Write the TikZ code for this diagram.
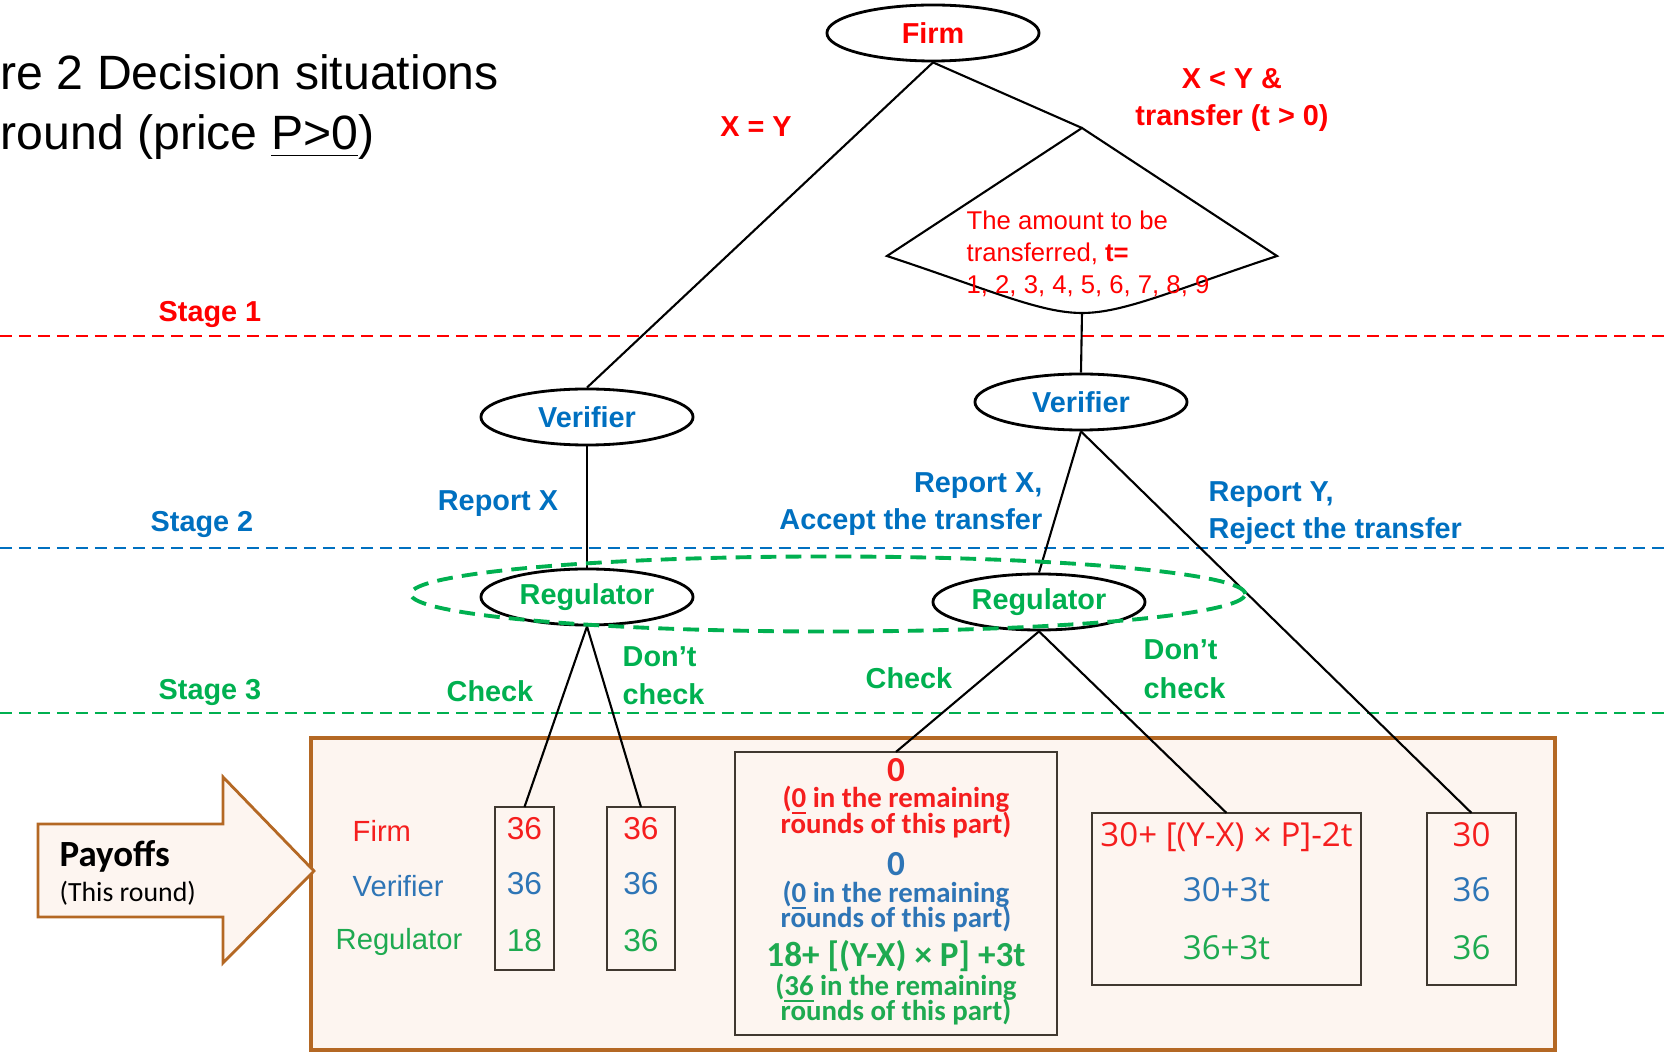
\documentclass[tikz,border=0pt]{standalone}
\usepackage{fontspec}
\setmainfont{Liberation Sans}
\newfontfamily\carlitofont{Carlito}
\newfontfamily\payfont{Open Sans}
\usetikzlibrary{shapes.geometric}
\definecolor{fred}{RGB}{255,0,0}
\definecolor{vblue}{RGB}{0,112,192}
\definecolor{rgreen}{RGB}{0,176,80}
\definecolor{pred}{RGB}{245,30,30}
\definecolor{pblue}{RGB}{46,117,182}
\definecolor{pgreen}{RGB}{30,170,80}
\definecolor{payline}{RGB}{180,104,36}
\definecolor{payfill}{RGB}{253,245,240}
\definecolor{boxline}{RGB}{64,56,48}
\begin{document}
\begin{tikzpicture}[x=0.01cm,y=-0.01cm,
    player/.style={ellipse,draw,line width=0.8pt,minimum width=2.12cm,minimum height=0.56cm,inner sep=0pt,font=\bfseries\fontsize{8.2}{10}\selectfont},
    lbl/.style={inner sep=0pt,font=\bfseries\fontsize{8.2}{10.6}\selectfont},
    branch/.style={line width=0.6pt},
    stageline/.style={dash pattern=on 3.4pt off 2pt,line width=0.6pt},
    paybox/.style={draw=boxline,line width=0.6pt,inner sep=0pt,outer sep=0pt},
    rowlbl/.style={inner sep=0pt,anchor=base west,font=\fontsize{8.3}{10}\selectfont},
    boxnum/.style={inner sep=0pt,anchor=base,font=\fontsize{9}{10}\selectfont},
    boxsum/.style={inner sep=0pt,anchor=base,font=\payfont\fontsize{9.4}{11}\selectfont},
    rest/.style={inner sep=0pt,anchor=base,font=\carlitofont\bfseries\fontsize{8.2}{9}\selectfont},
    restbig/.style={inner sep=0pt,anchor=base,font=\carlitofont\bfseries\fontsize{10}{11}\selectfont}]
    \useasboundingbox (0,0) rectangle (1665,1052);
    \node[anchor=base west,inner sep=0pt,font=\fontsize{13.7}{16}\selectfont] (title1) at (0,90) {re 2 Decision situations};
    \node[anchor=base west,inner sep=0pt,font=\fontsize{13.7}{16}\selectfont] (title2) at (0,150) {round (price \underline{P>0})};
    \draw[stageline,fred] (0,336) -- (1665,336);
    \draw[stageline,vblue] (0,548) -- (1665,548);
    \draw[stageline,rgreen] (0,713) -- (1665,713);
    \node[lbl,text=fred,anchor=base west] (stage1) at (158,322) {Stage 1};
    \node[lbl,text=vblue,anchor=base west] (stage2) at (150,532) {Stage 2};
    \node[lbl,text=rgreen,anchor=base west] (stage3) at (158,700) {Stage 3};
    \draw[payline,fill=payfill,line width=0.9pt] (311,738) rectangle (1555,1050);
    \draw[payline,fill=payfill,line width=0.8pt] (38,824) -- (223,824) -- (223,777) -- (314,871) -- (223,963) -- (223,917) -- (38,917) -- cycle;
    \node[anchor=base west,inner sep=0pt,font=\carlitofont\bfseries\fontsize{10.5}{12}\selectfont] (payoffs) at (59,867) {Payoffs};
    \node[anchor=base west,inner sep=0pt,font=\carlitofont\fontsize{7.9}{9}\selectfont] (thisround) at (59,902) {(This round)};
    \node[player,text=fred] (firm) at (933,33) {Firm};
    \node[player,text=vblue] (verA) at (587,417) {Verifier};
    \node[player,text=vblue] (verB) at (1081,402) {Verifier};
    \node[player,text=rgreen] (regA) at (587,597) {Regulator};
    \node[player,text=rgreen] (regB) at (1039,602) {Regulator};
    \coordinate (fanT) at (1082,128);
    \coordinate (fanL) at (887,256);
    \coordinate (fanR) at (1277,256);
    \coordinate (fanB) at (1082,313);
    \draw[branch] (fanT) -- (fanL) .. controls (990,290) and (1040,313) .. (fanB) .. controls (1124,313) and (1174,290) .. (fanR) -- cycle;
    \node[anchor=north west,inner sep=0pt,align=left,text=fred,font=\fontsize{7.3}{9.1}\selectfont] (amount) at (966,210) {The amount to be\\transferred, \textbf{t=}\\1, 2, 3, 4, 5, 6, 7, 8, 9};
    \node[paybox,minimum width=0.59cm,minimum height=1.63cm] (payA) at (524.5,888.5) {};
    \node[paybox,minimum width=0.68cm,minimum height=1.63cm] (payB) at (641,888.5) {};
    \node[paybox,minimum width=3.22cm,minimum height=2.83cm] (payC) at (896,893.5) {};
    \node[paybox,minimum width=2.69cm,minimum height=1.72cm] (payD) at (1226.5,899) {};
    \node[paybox,minimum width=0.89cm,minimum height=1.72cm] (payE) at (1471.5,899) {};
    \draw[branch] (firm.south) -- (verA.north);
    \draw[branch] (firm.south) -- (fanT);
    \draw[branch] (fanB) -- (verB.north);
    \draw[branch] (verA.south) -- (regA.north);
    \draw[branch] (verB.south) -- (regB.north);
    \draw[branch] (verB.south) -- (payE.north);
    \draw[branch] (regA.south) -- (payA.north);
    \draw[branch] (regA.south) -- (payB.north);
    \draw[branch] (regB.south) -- (payC.north);
    \draw[branch] (regB.south) -- (payD.north);
    \draw[rgreen,line width=1.1pt,dash pattern=on 4.5pt off 2.6pt] (828,594) ellipse [x radius=4.17cm,y radius=0.375cm];
    \node[lbl,text=fred,anchor=base] (xeqy) at (756,137) {X = Y};
    \node[lbl,text=fred,align=center,anchor=north] (xlty) at (1232,68) {X < Y \&\\transfer (t > 0)};
    \node[lbl,text=vblue,anchor=base] (repA) at (498,511) {Report X};
    \node[lbl,text=vblue,align=right,anchor=north east] (repB) at (1043,472) {Report X,\\Accept the transfer};
    \node[lbl,text=vblue,align=left,anchor=north west] (repC) at (1208,481) {Report Y,\\Reject the transfer};
    \node[lbl,text=rgreen,anchor=base] (chkA) at (490,702) {Check};
    \node[lbl,text=rgreen,align=left,anchor=north west,font=\bfseries\fontsize{8.2}{10.9}\selectfont] (dchkA) at (622,646) {Don’t\\check};
    \node[lbl,text=rgreen,anchor=base] (chkB) at (909,689) {Check};
    \node[lbl,text=rgreen,align=left,anchor=north west,font=\bfseries\fontsize{8.2}{11}\selectfont] (dchkB) at (1143,639) {Don’t\\check};
    \node[rowlbl,text=pred] (rowF) at (352,842) {Firm};
    \node[rowlbl,text=pblue] (rowV) at (352,897) {Verifier};
    \node[rowlbl,text=pgreen] (rowR) at (335,950) {Regulator};
    \node[boxnum,text=pred] (aF) at (524.5,840) {36};
    \node[boxnum,text=pblue] (aV) at (524.5,895) {36};
    \node[boxnum,text=pgreen] (aR) at (524.5,952) {18};
    \node[boxnum,text=pred] (bF) at (641,840) {36};
    \node[boxnum,text=pblue] (bV) at (641,895) {36};
    \node[boxnum,text=pgreen] (bR) at (641,952) {36};
    \node[restbig,text=pred] (cF) at (896,782) {0};
    \node[rest,text=pred] (cF1) at (896,808) {(\underline{0} in the remaining};
    \node[rest,text=pred] (cF2) at (896,834) {rounds of this part)};
    \node[restbig,text=pblue] (cV) at (896,876) {0};
    \node[rest,text=pblue] (cV1) at (896,903) {(\underline{0} in the remaining};
    \node[rest,text=pblue] (cV2) at (896,928) {rounds of this part)};
    \node[restbig,text=pgreen] (cR) at (896,967) {18+ [(Y-X) × P] +3t};
    \node[rest,text=pgreen] (cR1) at (896,996) {(\underline{36} in the remaining};
    \node[rest,text=pgreen] (cR2) at (896,1021) {rounds of this part)};
    \node[boxsum,text=pred] (dF) at (1226.5,847) {30+ [(Y-X) × P]-2t};
    \node[boxsum,text=pblue] (dV) at (1226.5,902) {30+3t};
    \node[boxsum,text=pgreen] (dR) at (1226.5,960) {36+3t};
    \node[boxsum,text=pred] (eF) at (1471.5,847) {30};
    \node[boxsum,text=pblue] (eV) at (1471.5,902) {36};
    \node[boxsum,text=pgreen] (eR) at (1471.5,960) {36};
\end{tikzpicture}
\end{document}
